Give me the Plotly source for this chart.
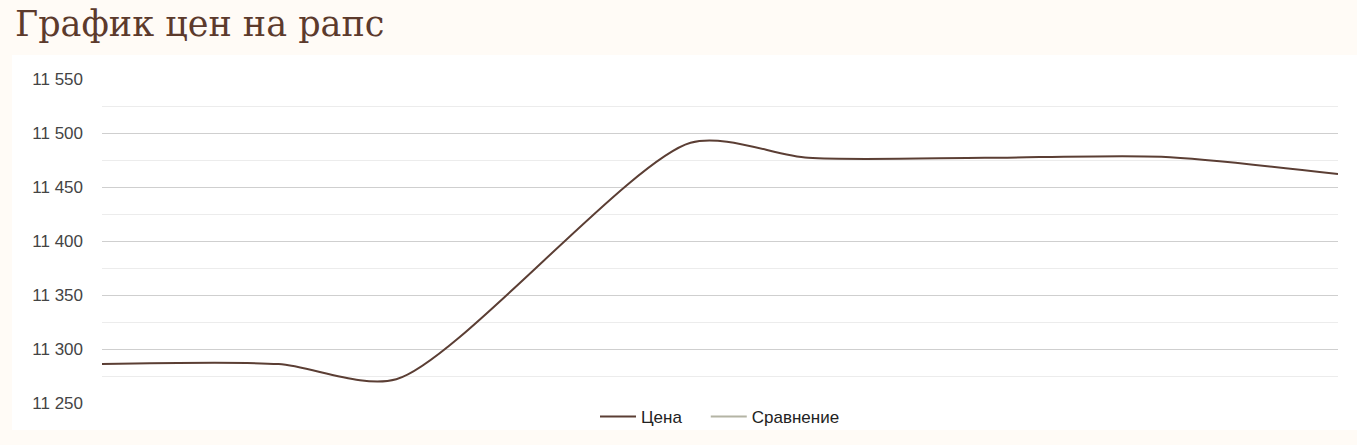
import plotly.graph_objects as go

dates = ["2024-03-01", "2024-03-04", "2024-03-06", "2024-03-11", "2024-03-13", "2024-03-16", "2024-03-19", "2024-03-22"]
price = [11286, 11286, 11272, 11491, 11477, 11477, 11478, 11462]
compare = [None]
tick_vals = [11250, 11300, 11350, 11400, 11450, 11500, 11550]
tick_text = ["11 250", "11 300", "11 350", "11 400", "11 450", "11 500", "11 550"]

W, H = 1357, 445
L, R, T, B = 102, 19, 79, 42
pw, ph = W - L - R, H - T - B

fig = go.Figure()
fig.add_trace(go.Scatter(x=dates, y=price, mode="lines", name="Цена\u00a0\u00a0\u00a0\u00a0",
                         line=dict(color="#5b3e34", width=2, shape="spline", smoothing=0.75),
                         hoverinfo="skip"))
fig.add_trace(go.Scatter(x=[dates[0]], y=compare, mode="lines", name="Сравнение",
                         line=dict(color="#b4b4a4", width=2), showlegend=True))

fig.add_shape(type="rect", xref="paper", yref="paper",
              x0=(12 - L) / pw, x1=(W - L) / pw, y0=(403 - 430) / ph, y1=(403 - 55) / ph,
              fillcolor="white", line=dict(width=0), layer="below")

fig.add_annotation(text="График цен на рапс", xref="paper", yref="paper",
                   x=(13 - L) / pw, y=(403 - 24) / ph, xanchor="left", yanchor="middle",
                   showarrow=False, font=dict(family="DejaVu Serif", size=35, color="#5c3a2c"))

fig.update_layout(
    width=W, height=H, margin=dict(l=L, r=R, t=T, b=B, pad=0, autoexpand=False),
    paper_bgcolor="#fffbf6", plot_bgcolor="white",
    font=dict(family="Liberation Sans, Arial", color="#444444", size=17),
    showlegend=True,
    legend=dict(orientation="h", x=0.5, xanchor="center", y=-14 / ph, yanchor="middle",
                font=dict(size=17, color="#222222"), bgcolor="rgba(0,0,0,0)",
                itemwidth=36),
    xaxis=dict(visible=False, showgrid=False, zeroline=False,
               range=[dates[0], dates[-1]]),
    yaxis=dict(range=[11250, 11550], tickvals=tick_vals, ticktext=tick_text,
               showgrid=True, gridcolor="#cfcfcf", gridwidth=1, zeroline=False,
               showline=False, ticks="", ticklabelstandoff=18,
               minor=dict(dtick=25, tick0=11250, showgrid=True, gridcolor="#ececec")),
)

fig.write_html("out.html", config={"displayModeBar": False})
with open("out.html", encoding="utf-8") as f:
    html = f.read()
html = html.replace("<head>", "<head><style>html,body{margin:0;padding:0;background:#fffbf6;}</style>", 1)
with open("out.html", "w", encoding="utf-8") as f:
    f.write(html)
